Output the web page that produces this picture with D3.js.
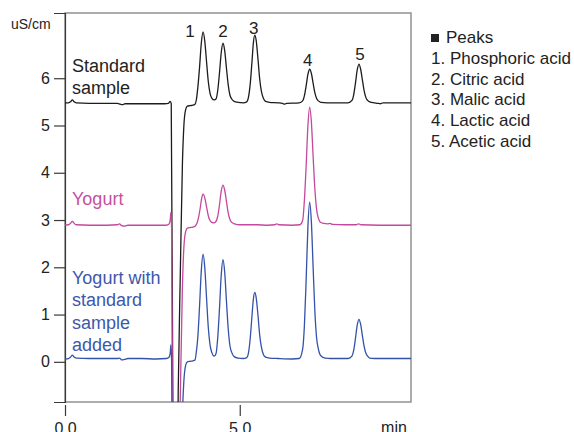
<!DOCTYPE html>
<html>
<head>
<meta charset="utf-8">
<script src="https://cdn.jsdelivr.net/npm/d3@7"></script>
<style>
    html, body { margin: 0; padding: 0; background: #fff; }
    svg { display: block; }
</style>
</head>
<body>
<div id="chart"></div>
<script>
// ==========================================================================
// DATA ([time in min, conductivity in uS/cm])
// ==========================================================================

const standardTrace = [
    [0.00, 5.48], [0.10, 5.48], [0.16, 5.50], [0.21, 5.54], [0.26, 5.50], [0.32, 5.48],
    [0.70, 5.47], [1.20, 5.47], [1.50, 5.47], [1.58, 5.45], [1.64, 5.44], [1.72, 5.46],
    [2.00, 5.46], [2.50, 5.46], [2.85, 5.46], [2.96, 5.47], [3.01, 5.51], [3.04, 5.46],
    [3.09, -1.5], [3.14, -4.5], [3.19, -4.0], [3.24, -0.6], [3.30, 1.9], [3.36, 4.2],
    [3.40, 4.98], [3.45, 5.33], [3.50, 5.41], [3.58, 5.42], [3.66, 5.43], [3.72, 5.45],
    [3.76, 5.55], [3.80, 5.80], [3.85, 6.23], [3.90, 6.74], [3.95, 6.98], [4.00, 6.78],
    [4.05, 6.35], [4.10, 5.93], [4.15, 5.68], [4.20, 5.58], [4.27, 5.54], [4.32, 5.56],
    [4.37, 5.74], [4.42, 6.11], [4.47, 6.54], [4.52, 6.74], [4.57, 6.58], [4.62, 6.21],
    [4.67, 5.86], [4.72, 5.64], [4.77, 5.56], [4.84, 5.51], [4.95, 5.49], [5.10, 5.48],
    [5.20, 5.50], [5.25, 5.60], [5.30, 5.88], [5.35, 6.35], [5.39, 6.75], [5.43, 6.91],
    [5.47, 6.80], [5.52, 6.42], [5.57, 5.99], [5.62, 5.72], [5.68, 5.57], [5.74, 5.51],
    [5.85, 5.49], [6.10, 5.48], [6.22, 5.47], [6.28, 5.45], [6.34, 5.47], [6.70, 5.48],
    [6.80, 5.52], [6.85, 5.63], [6.90, 5.84], [6.95, 6.08], [7.00, 6.19], [7.05, 6.10],
    [7.10, 5.89], [7.15, 5.69], [7.20, 5.57], [7.25, 5.52], [7.32, 5.49], [7.50, 5.48],
    [8.10, 5.48], [8.21, 5.53], [8.26, 5.65], [8.31, 5.89], [8.36, 6.17], [8.41, 6.30],
    [8.46, 6.19], [8.51, 5.96], [8.56, 5.73], [8.61, 5.59], [8.66, 5.53], [8.72, 5.50],
    [8.85, 5.48], [8.95, 5.47], [9.02, 5.46], [9.10, 5.48], [9.50, 5.48], [9.90, 5.48]
];

const yogurtTrace = [
    [0.00, 2.89], [0.10, 2.90], [0.16, 2.93], [0.21, 2.97], [0.26, 2.93], [0.32, 2.90],
    [0.70, 2.89], [1.20, 2.89], [1.50, 2.90], [1.56, 2.92], [1.62, 2.88], [1.70, 2.87],
    [1.80, 2.89], [2.20, 2.89], [2.60, 2.89], [2.90, 2.89], [2.97, 2.91], [3.01, 3.00],
    [3.03, 3.16], [3.05, 2.80], [3.08, -2.0], [3.13, -7.0], [3.19, -6.6], [3.24, -3.2],
    [3.30, -0.7], [3.36, 1.6], [3.40, 2.40], [3.45, 2.75], [3.50, 2.83], [3.58, 2.84],
    [3.66, 2.85], [3.72, 2.87], [3.77, 2.92], [3.82, 3.05], [3.87, 3.26], [3.91, 3.46],
    [3.95, 3.55], [4.00, 3.47], [4.05, 3.28], [4.10, 3.09], [4.15, 2.99], [4.20, 2.95],
    [4.27, 2.94], [4.32, 2.97], [4.37, 3.08], [4.42, 3.32], [4.47, 3.61], [4.52, 3.74],
    [4.57, 3.63], [4.62, 3.39], [4.67, 3.15], [4.72, 3.01], [4.77, 2.95], [4.85, 2.92],
    [5.00, 2.90], [5.50, 2.90], [5.80, 2.89], [6.00, 2.90], [6.06, 2.92], [6.12, 2.90],
    [6.50, 2.89], [6.72, 2.90], [6.80, 2.99], [6.85, 3.42], [6.90, 4.15], [6.95, 4.99],
    [7.00, 5.39], [7.05, 5.07], [7.10, 4.34], [7.15, 3.65], [7.20, 3.22], [7.25, 3.04],
    [7.30, 2.96], [7.40, 2.93], [7.52, 2.92], [7.58, 2.93], [7.65, 2.91], [8.00, 2.90],
    [8.33, 2.90], [8.40, 2.92], [8.47, 2.90], [9.00, 2.89], [9.50, 2.89], [9.90, 2.89]
];

const spikedTrace = [
    [0.00, 0.06], [0.10, 0.07], [0.16, 0.10], [0.21, 0.14], [0.26, 0.10], [0.32, 0.08],
    [0.70, 0.07], [1.20, 0.07], [1.50, 0.07], [1.56, 0.08], [1.62, 0.04], [1.70, 0.05],
    [1.80, 0.07], [2.20, 0.07], [2.60, 0.06], [2.90, 0.07], [2.97, 0.09], [3.01, 0.18],
    [3.03, 0.36], [3.05, 0.00], [3.09, -4.5], [3.14, -9.0], [3.19, -8.5], [3.24, -5.2],
    [3.30, -2.8], [3.36, -1.1], [3.40, -0.42], [3.45, -0.08], [3.50, 0.00], [3.58, 0.01],
    [3.66, 0.02], [3.72, 0.04], [3.76, 0.22], [3.80, 0.52], [3.85, 1.18], [3.90, 1.93],
    [3.95, 2.28], [4.00, 1.99], [4.05, 1.35], [4.10, 0.73], [4.15, 0.36], [4.20, 0.20],
    [4.27, 0.12], [4.32, 0.17], [4.37, 0.51], [4.42, 1.12], [4.47, 1.83], [4.52, 2.16],
    [4.57, 1.89], [4.62, 1.28], [4.67, 0.70], [4.72, 0.34], [4.77, 0.20], [4.84, 0.11],
    [4.95, 0.08], [5.10, 0.07], [5.20, 0.09], [5.25, 0.19], [5.30, 0.50], [5.35, 0.97],
    [5.39, 1.33], [5.43, 1.47], [5.47, 1.36], [5.52, 1.00], [5.57, 0.57], [5.62, 0.31],
    [5.68, 0.15], [5.74, 0.10], [5.85, 0.08], [6.10, 0.07], [6.50, 0.06], [6.70, 0.07],
    [6.80, 0.27], [6.85, 0.77], [6.90, 1.73], [6.95, 2.85], [7.00, 3.38], [7.05, 2.95],
    [7.10, 1.99], [7.15, 1.06], [7.20, 0.50], [7.25, 0.27], [7.32, 0.13], [7.45, 0.08],
    [7.60, 0.07], [8.10, 0.07], [8.21, 0.12], [8.26, 0.24], [8.31, 0.49], [8.36, 0.77],
    [8.41, 0.90], [8.46, 0.79], [8.51, 0.55], [8.56, 0.32], [8.61, 0.18], [8.66, 0.12],
    [8.72, 0.08], [8.85, 0.07], [9.50, 0.07], [9.90, 0.07]
];

const yTicks = [0, 1, 2, 3, 4, 5, 6];
const xTicks = [0, 5];
const peakNumbers = ['1', '2', '3', '4', '5'];
const peakTimes = [3.95, 4.52, 5.43, 7.00, 8.41];
const seriesNames = [
    ['Standard', 'sample'],
    ['Yogurt'],
    ['Yogurt with', 'standard', 'sample', 'added']
];
const legendTitle = 'Peaks';
const legendItems = ['1. Phosphoric acid', '2. Citric acid', '3. Malic acid', '4. Lactic acid', '5. Acetic acid'];

// ==========================================================================
// CHART SETTINGS
// ==========================================================================

const CHART_CONFIG = {
    width: 574,
    height: 432,
    plot: { left: 65, right: 411, top: 13, bottom: 402 },
    xDomain: [0, 9.9],
    yDomain: [-0.85, 7.38],
    font: '"Liberation Sans", Arial, sans-serif',
    colors: {
        traces: ['#1c1c1c', '#c4489e', '#3452a8'],
        labels: ['#222222', '#c4519f', '#3d58ab'],
        frame: '#8a8a8a',
        axis: '#3a3a3a',
        text: '#222222'
    },
    // label anchors in pixels: [x, first baseline]
    seriesLabelPos: [[72, 72], [72, 205], [72, 284]],
    seriesLineHeight: 22.3,
    peakLabelShift: [[-13, 5], [0, -6], [-1, -1], [-2, -3], [1, -4]]
};

// ==========================================================================
// RENDERING
// ==========================================================================

function renderChart() {
    const cfg = CHART_CONFIG;
    const p = cfg.plot;

    const svg = d3.select('#chart')
        .append('svg')
        .attr('width', cfg.width)
        .attr('height', cfg.height)
        .style('font-family', cfg.font);

    const x = d3.scaleLinear().domain(cfg.xDomain).range([p.left, p.right]);
    const y = d3.scaleLinear().domain(cfg.yDomain).range([p.bottom, p.top]);

    // clip for the traces (system dip runs off the bottom)
    svg.append('defs').append('clipPath')
        .attr('id', 'plot-clip')
        .append('rect')
        .attr('x', p.left)
        .attr('y', p.top)
        .attr('width', p.right - p.left)
        .attr('height', p.bottom - p.top);

    // frame
    svg.append('rect')
        .attr('x', p.left)
        .attr('y', p.top)
        .attr('width', p.right - p.left)
        .attr('height', p.bottom - p.top)
        .attr('fill', 'none')
        .attr('stroke', cfg.colors.frame)
        .attr('stroke-width', 1.4);

    // Y axis
    const yAxis = svg.append('g')
        .attr('transform', `translate(${p.left},0)`)
        .call(d3.axisLeft(y).tickValues(yTicks).tickSize(11).tickPadding(4).tickFormat(d3.format('d')));
    yAxis.select('.domain').attr('stroke', cfg.colors.axis).attr('stroke-width', 1.2);
    yAxis.selectAll('.tick line').attr('stroke', cfg.colors.axis).attr('stroke-width', 1.2);
    yAxis.selectAll('.tick text')
        .attr('fill', cfg.colors.text)
        .style('font-size', '16px')
        .style('font-family', cfg.font);

    // X axis (ticks hang below the frame)
    const xAxis = svg.append('g')
        .attr('transform', `translate(0,${p.bottom + 3})`)
        .call(d3.axisBottom(x).tickValues(xTicks).tickSize(11).tickPadding(7).tickFormat(d3.format('.1f')));
    xAxis.select('.domain').remove();
    xAxis.selectAll('.tick line').attr('stroke', cfg.colors.axis).attr('stroke-width', 1.2);
    xAxis.selectAll('.tick text')
        .attr('fill', cfg.colors.text)
        .style('font-size', '16px')
        .style('font-family', cfg.font);

    svg.append('text')
        .attr('x', 394)
        .attr('y', 433)
        .attr('text-anchor', 'middle')
        .attr('fill', cfg.colors.text)
        .style('font-size', '16px')
        .text('min');

    svg.append('text')
        .attr('x', 11)
        .attr('y', 29)
        .attr('fill', cfg.colors.text)
        .style('font-size', '14px')
        .text('uS/cm');

    // traces
    const line = d3.line()
        .x(d => x(d[0]))
        .y(d => y(d[1]))
        .curve(d3.curveMonotoneX);

    const traces = svg.append('g').attr('clip-path', 'url(#plot-clip)');
    [standardTrace, yogurtTrace, spikedTrace].forEach((trace, i) => {
        traces.append('path')
            .datum(trace)
            .attr('d', line)
            .attr('fill', 'none')
            .attr('stroke', cfg.colors.traces[i])
            .attr('stroke-width', 1.3)
            .attr('stroke-linejoin', 'round');
    });

    // series labels
    seriesNames.forEach((lines, i) => {
        const [lx, ly] = cfg.seriesLabelPos[i];
        const t = svg.append('text')
            .attr('fill', cfg.colors.labels[i])
            .style('font-size', '18px');
        lines.forEach((s, j) => {
            t.append('tspan')
                .attr('x', lx)
                .attr('y', ly + j * cfg.seriesLineHeight)
                .text(s);
        });
    });

    // peak numbers above the standard trace
    peakNumbers.forEach((label, i) => {
        const apex = standardTrace.find(d => d[0] === peakTimes[i]);
        const [dx, dy] = cfg.peakLabelShift[i];
        svg.append('text')
            .attr('x', x(peakTimes[i]) + dx)
            .attr('y', y(apex[1]) + dy)
            .attr('text-anchor', 'middle')
            .attr('fill', cfg.colors.text)
            .style('font-size', '17px')
            .text(label);
    });

    // legend
    const legend = svg.append('g').attr('transform', 'translate(431,43)');
    legend.append('rect')
        .attr('x', 0)
        .attr('y', -9)
        .attr('width', 8)
        .attr('height', 8)
        .attr('fill', '#222');
    legend.append('text')
        .attr('x', 15)
        .attr('y', 0)
        .attr('fill', cfg.colors.text)
        .style('font-size', '17px')
        .text(legendTitle);
    legend.selectAll('.legend-item')
        .data(legendItems)
        .enter().append('text')
        .attr('class', 'legend-item')
        .attr('x', 0)
        .attr('y', (d, i) => 21 + i * 20.7)
        .attr('fill', cfg.colors.text)
        .style('font-size', '17px')
        .text(d => d);
}

renderChart();
</script>
</body>
</html>
